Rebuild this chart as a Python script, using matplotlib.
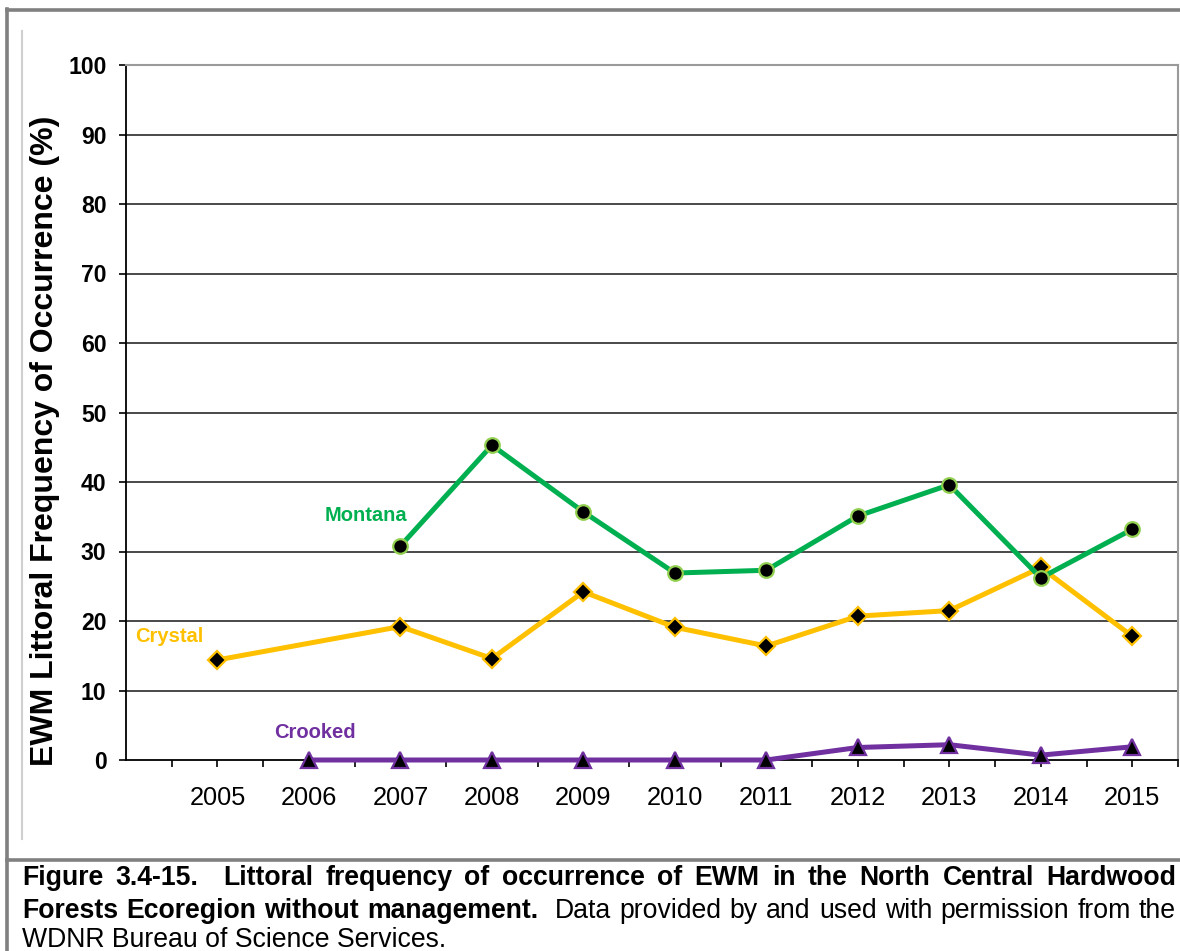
import matplotlib
matplotlib.use("Agg")
import matplotlib.pyplot as plt
from matplotlib.lines import Line2D

plt.rcParams['font.family'] = ['Liberation Sans', 'DejaVu Sans']

# ---- data -------------------------------------------------------------
years = [2005, 2006, 2007, 2008, 2009, 2010, 2011, 2012, 2013, 2014, 2015]

montana_years = [2007, 2008, 2009, 2010, 2011, 2012, 2013, 2014, 2015]
montana = [30.8, 45.3, 35.7, 26.9, 27.3, 35.1, 39.6, 26.2, 33.2]

crystal_years = [2005, 2007, 2008, 2009, 2010, 2011, 2012, 2013, 2014, 2015]
crystal = [14.4, 19.2, 14.6, 24.2, 19.1, 16.4, 20.7, 21.5, 27.7, 17.8]

crooked_years = [2006, 2007, 2008, 2009, 2010, 2011, 2012, 2013, 2014, 2015]
crooked = [0.0, 0.0, 0.0, 0.0, 0.0, 0.0, 1.8, 2.2, 0.7, 1.9]

y_ticks = [0, 10, 20, 30, 40, 50, 60, 70, 80, 90, 100]
y_label = "EWM Littoral Frequency of Occurrence (%)"

caption_line1 = [("Figure", "bold"), ("3.4-15.", "bold"), ("", None),
                 ("Littoral", "bold"), ("frequency", "bold"), ("of", "bold"),
                 ("occurrence", "bold"), ("of", "bold"), ("EWM", "bold"),
                 ("in", "bold"), ("the", "bold"), ("North", "bold"),
                 ("Central", "bold"), ("Hardwood", "bold")]
caption_line2 = [("Forests", "bold"), ("Ecoregion", "bold"), ("without", "bold"),
                 ("management.", "bold"), ("", None), ("Data", "normal"),
                 ("provided", "normal"), ("by", "normal"), ("and", "normal"),
                 ("used", "normal"), ("with", "normal"), ("permission", "normal"),
                 ("from", "normal"), ("the", "normal")]
caption_line3 = "WDNR Bureau of Science Services."

GREEN = "#00B050"
GREEN_EDGE = "#92D050"
GOLD = "#FFC000"
PURPLE = "#7030A0"

W, H = 1180, 951
fig = plt.figure(figsize=(W / 100, H / 100), dpi=100)


def fx(x):
    return x / W


def fy(y):
    return 1 - y / H


# plot area
ax = fig.add_axes([fx(126), fy(760), fx(1178) - fx(126), fy(65) - fy(760)])
ax.set_xlim(2004, 2015.5)
ax.set_ylim(0, 100)

for v in y_ticks[1:-1]:
    ax.axhline(v, color="#3a3a3a", lw=1.3, zorder=1)

ax.plot(montana_years, montana, color=GREEN, lw=3.6, marker="o", ms=10.5,
        mfc="black", mec=GREEN_EDGE, mew=1.6, zorder=4)
ax.plot(crystal_years, crystal, color=GOLD, lw=3.6, marker="D", ms=9,
        mfc="black", mec=GOLD, mew=1.6, zorder=3)
ax.plot(crooked_years, crooked, color=PURPLE, lw=3.6, marker="^", ms=11.5,
        mfc="black", mec=PURPLE, mew=1.6, zorder=5, clip_on=False)

ax.text(2006.62, 35.2, "Montana", color=GREEN, fontsize=14.5, fontweight="bold",
        ha="center", va="center")
ax.text(2004.47, 17.8, "Crystal", color=GOLD, fontsize=14.5, fontweight="bold",
        ha="center", va="center")
ax.text(2006.07, 3.9, "Crooked", color=PURPLE, fontsize=14.5, fontweight="bold",
        ha="center", va="center")

ax.set_yticks(y_ticks)
ax.set_yticklabels([str(v) for v in y_ticks], fontsize=16.6, fontweight="bold")
ax.tick_params(axis="y", direction="out", length=5, width=1.2, pad=9, colors="black")

xt = [2004 + 0.5 * i for i in range(1, 24)]
ax.set_xticks(xt)
ax.set_xticklabels([str(int(t)) if t == int(t) and int(t) in years else "" for t in xt],
                   fontsize=18.3)
ax.tick_params(axis="x", direction="out", length=5, width=1.2, pad=14, colors="black")

for s in ("left", "bottom"):
    ax.spines[s].set_color("black")
    ax.spines[s].set_linewidth(1.3)
for s in ("top", "right"):
    ax.spines[s].set_color("#9a9a9a")
    ax.spines[s].set_linewidth(1.5)

fig.text(fx(45), fy(441), y_label, rotation=90, fontsize=23, fontweight="bold",
         ha="center", va="center")

# frame lines around chart and caption
frame_kw = dict(transform=fig.transFigure, color="#808080", lw=2.6)
fig.add_artist(Line2D([fx(7), fx(1180)], [fy(10), fy(10)], **frame_kw))
fig.add_artist(Line2D([fx(7), fx(7)], [fy(9), fy(951)], **frame_kw))
fig.add_artist(Line2D([fx(7), fx(1180)], [fy(860), fy(860)], **frame_kw))
fig.add_artist(Line2D([fx(21.5), fx(21.5)], [fy(31), fy(839)],
                      transform=fig.transFigure, color="#cfcfcf", lw=1.5))

# caption, justified between the frame edges
renderer = fig.canvas.get_renderer()
CAP_FS = 19.2


def justified(tokens, baseline, x0, x1):
    texts = []
    weights = []
    for word, weight in tokens:
        if weight is None:
            weights[-1] += 1
            continue
        t = fig.text(0, fy(baseline), word, fontsize=CAP_FS, fontweight=weight,
                     ha="left", va="baseline")
        texts.append(t)
        weights.append(1)
    widths = [t.get_window_extent(renderer).width for t in texts]
    gap_total = (x1 - x0) - sum(widths)
    unit = gap_total / sum(weights[:-1])
    x = x0
    for t, w, g in zip(texts, widths, weights):
        t.set_x(fx(x))
        x += w + unit * g


justified(caption_line1, 885, 22, 1176)
justified(caption_line2, 918, 22, 1176)
fig.text(fx(22), fy(947), caption_line3, fontsize=CAP_FS, ha="left", va="baseline")

fig.savefig("out.png", dpi=100)
